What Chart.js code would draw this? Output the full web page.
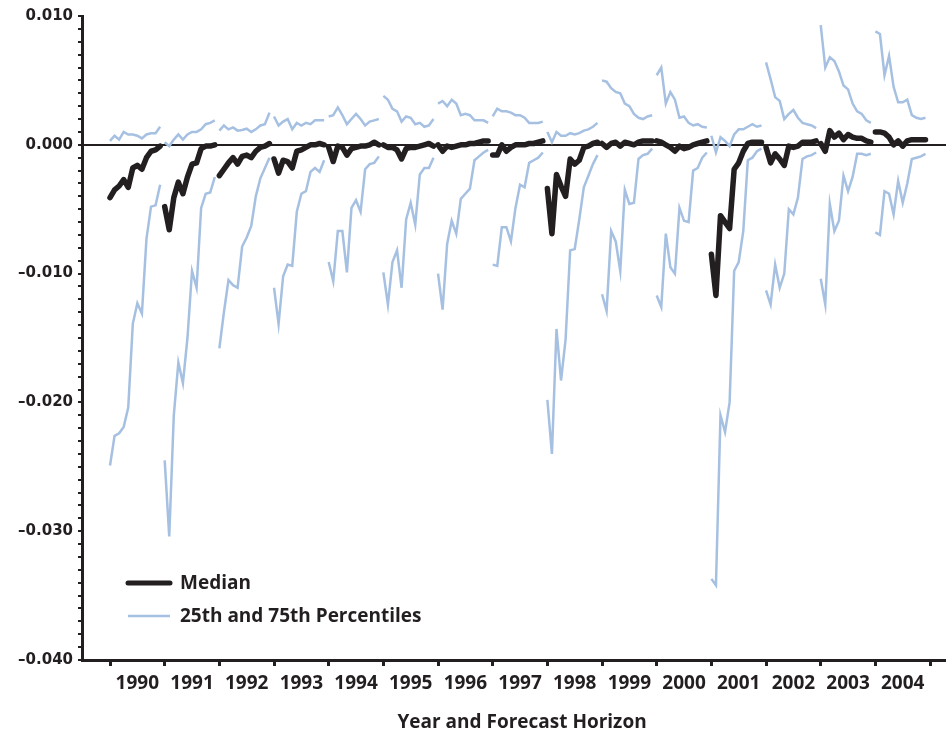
<!DOCTYPE html>
<html>
<head>
<meta charset="utf-8">
<script src="https://cdn.jsdelivr.net/npm/chart.js@4.4.1/dist/chart.umd.min.js"></script>
<style>
html,body{margin:0;padding:0;background:#ffffff;}
canvas{display:block;}
</style>
</head>
<body>
<canvas id="chart" width="946" height="732"></canvas>
<script>
// ---- Data (12 monthly forecasts per target year) ----
const years = ['1990','1991','1992','1993','1994','1995','1996','1997','1998','1999','2000','2001','2002','2003','2004'];
const forecastsPerYear = 12;

const median = [
  -0.0041,-0.0035,-0.0032,-0.0027,-0.0033,-0.0018,-0.0016,-0.0019,-0.0010,-0.0005,-0.0004,-0.0001, // 1990
  -0.0048,-0.0066,-0.0041,-0.0029,-0.0038,-0.0025,-0.0015,-0.0014,-0.0003,-0.0001,-0.0001, 0.0000, // 1991
  -0.0024,-0.0019,-0.0014,-0.0010,-0.0015,-0.0009,-0.0008,-0.0010,-0.0005,-0.0002,-0.0001, 0.0001, // 1992
  -0.0011,-0.0022,-0.0012,-0.0013,-0.0018,-0.0005,-0.0004,-0.0002, 0.0000, 0.0000, 0.0001, 0.0000, // 1993
  -0.0002,-0.0013,-0.0001,-0.0002,-0.0008,-0.0003,-0.0002,-0.0001,-0.0001, 0.0000, 0.0002, 0.0000, // 1994
   0.0000,-0.0002,-0.0002,-0.0004,-0.0011,-0.0003,-0.0002,-0.0002,-0.0001, 0.0000, 0.0001,-0.0001, // 1995
   0.0000,-0.0005,-0.0001,-0.0002,-0.0001, 0.0000, 0.0000, 0.0001, 0.0001, 0.0002, 0.0003, 0.0003, // 1996
  -0.0008,-0.0008, 0.0000,-0.0005,-0.0002, 0.0000, 0.0000, 0.0000, 0.0001, 0.0001, 0.0002, 0.0003, // 1997
  -0.0034,-0.0069,-0.0023,-0.0032,-0.0040,-0.0011,-0.0015,-0.0012,-0.0002,-0.0001, 0.0001, 0.0002, // 1998
   0.0001,-0.0002, 0.0001, 0.0002,-0.0001, 0.0002, 0.0001, 0.0000, 0.0002, 0.0003, 0.0003, 0.0003, // 1999
   0.0003, 0.0002, 0.0000,-0.0002,-0.0005,-0.0001,-0.0003,-0.0002, 0.0000, 0.0001, 0.0002, 0.0003, // 2000
  -0.0085,-0.0117,-0.0055,-0.0060,-0.0065,-0.0019,-0.0014,-0.0005, 0.0001, 0.0002, 0.0002, 0.0002, // 2001
  -0.0002,-0.0014,-0.0007,-0.0011,-0.0016,-0.0001,-0.0002,-0.0001, 0.0002, 0.0002, 0.0002, 0.0003, // 2002
   0.0001,-0.0005, 0.0011, 0.0006, 0.0009, 0.0004, 0.0008, 0.0006, 0.0005, 0.0005, 0.0003, 0.0002, // 2003
   0.0010, 0.0010, 0.0009, 0.0006, 0.0000, 0.0003,-0.0001, 0.0003, 0.0004, 0.0004, 0.0004, 0.0004  // 2004
];

const p75 = [
   0.0003, 0.0007, 0.0004, 0.0010, 0.0008, 0.0008, 0.0007, 0.0005, 0.0008, 0.0009, 0.0009, 0.0014, // 1990
   0.0002,-0.0001, 0.0004, 0.0008, 0.0004, 0.0008, 0.0010, 0.0010, 0.0012, 0.0016, 0.0017, 0.0019, // 1991
   0.0011, 0.0015, 0.0012, 0.00135,0.0011, 0.00115,0.00125,0.0010, 0.0012, 0.0015, 0.0016, 0.0025, // 1992
   0.0022, 0.0015, 0.0018, 0.0020, 0.0012, 0.0017, 0.0015, 0.0017, 0.0016, 0.0019, 0.0019, 0.0019, // 1993
   0.0022, 0.0023, 0.0029, 0.0023, 0.0016, 0.0020, 0.0024, 0.0020, 0.0015, 0.0018, 0.0019, 0.0020, // 1994
   0.0038, 0.0035, 0.0028, 0.0026, 0.0018, 0.0022, 0.0021, 0.0016, 0.0017, 0.0014, 0.0015, 0.0020, // 1995
   0.0032, 0.0034, 0.0030, 0.0035, 0.0032, 0.0023, 0.0024, 0.0023, 0.0019, 0.0019, 0.0019, 0.0017, // 1996
   0.0022, 0.0028, 0.0026, 0.0026, 0.0025, 0.0023, 0.0023, 0.0021, 0.0017, 0.0017, 0.0017, 0.0018, // 1997
   0.0010, 0.0002, 0.0010, 0.0007, 0.0007, 0.0009, 0.0008, 0.0009, 0.0011, 0.0012, 0.0014, 0.0017, // 1998
   0.0050, 0.0049, 0.0044, 0.0041, 0.0040, 0.0032, 0.0030, 0.0024, 0.0021, 0.0020, 0.0022, 0.0023, // 1999
   0.0054, 0.0060, 0.0032, 0.0041, 0.0035, 0.0021, 0.0022, 0.0017, 0.0015, 0.0016, 0.0014, 0.00135,// 2000
   0.0007,-0.0006, 0.0006, 0.0003,-0.0001, 0.0008, 0.0012, 0.0012, 0.0014, 0.0016, 0.0014, 0.0015, // 2001
   0.0064, 0.0051, 0.0037, 0.0034, 0.0020, 0.0024, 0.0027, 0.0021, 0.0017, 0.0016, 0.0015, 0.0013, // 2002
   0.0093, 0.0060, 0.0068, 0.0065, 0.0057, 0.0046, 0.0043, 0.0032, 0.0026, 0.0024, 0.0019, 0.0017, // 2003
   0.0088, 0.0086, 0.0054, 0.0069, 0.0045, 0.0033, 0.0033, 0.0035, 0.0023, 0.0021, 0.0020, 0.0021  // 2004
];

const p25 = [
  -0.0249,-0.0226,-0.0224,-0.0219,-0.0204,-0.0139,-0.0123,-0.0131,-0.0073,-0.0048,-0.0047,-0.0031, // 1990
  -0.0245,-0.0304,-0.0210,-0.0169,-0.0185,-0.0150,-0.0098,-0.0111,-0.0049,-0.0038,-0.0037,-0.0025, // 1991
  -0.0158,-0.0130,-0.0105,-0.0109,-0.0111,-0.0079,-0.0072,-0.0063,-0.0040,-0.0026,-0.0018,-0.0010, // 1992
  -0.0111,-0.0139,-0.0102,-0.0093,-0.0094,-0.0052,-0.0038,-0.0036,-0.0021,-0.0018,-0.0021,-0.0012, // 1993
  -0.0091,-0.0106,-0.0067,-0.0067,-0.0099,-0.0049,-0.0043,-0.0052,-0.0019,-0.0015,-0.0014,-0.0009, // 1994
  -0.0099,-0.0124,-0.0091,-0.0082,-0.0111,-0.0058,-0.0045,-0.0062,-0.0023,-0.0018,-0.0018,-0.0010, // 1995
  -0.0100,-0.0128,-0.0077,-0.0059,-0.0069,-0.0042,-0.0038,-0.0034,-0.0012,-0.0009,-0.0006,-0.0004, // 1996
  -0.0093,-0.0094,-0.0064,-0.0064,-0.0075,-0.0049,-0.0031,-0.0033,-0.0014,-0.0012,-0.0010,-0.0006, // 1997
  -0.0198,-0.0240,-0.0143,-0.0183,-0.0151,-0.0082,-0.0081,-0.0058,-0.0033,-0.0024,-0.0015,-0.0008, // 1998
  -0.0116,-0.0129,-0.0067,-0.0075,-0.0098,-0.0035,-0.0046,-0.0045,-0.0011,-0.0008,-0.0007,-0.0003, // 1999
  -0.0117,-0.0126,-0.0069,-0.0095,-0.0100,-0.0049,-0.0059,-0.0060,-0.0020,-0.0018,-0.0010,-0.0006, // 2000
  -0.0337,-0.0342,-0.0210,-0.0223,-0.0200,-0.0098,-0.0091,-0.0067,-0.0012,-0.0010,-0.0005,-0.0003, // 2001
  -0.0113,-0.0124,-0.0093,-0.0111,-0.0100,-0.0050,-0.0054,-0.0041,-0.0011,-0.0009,-0.0008,-0.0006, // 2002
  -0.0104,-0.0124,-0.0046,-0.0067,-0.0059,-0.0024,-0.0036,-0.0025,-0.0007,-0.0007,-0.0008,-0.0007, // 2003
  -0.0068,-0.0070,-0.0036,-0.0038,-0.0054,-0.0028,-0.0045,-0.0030,-0.0011,-0.0010,-0.0009,-0.0007  // 2004
];

const yMajorTicks  = [0.010, 0.000, -0.010, -0.020, -0.030, -0.040];
const yTickLabels  = ['0.010', '0.000', '\u20130.010', '\u20130.020', '\u20130.030', '\u20130.040'];
const yMinorStep   = 0.001;
const xTitle = 'Year and Forecast Horizon';
const legendLabels = ['Median', '25th and 75th Percentiles'];

// ---- Build point lists: one broken segment per target year ----
function toPoints(vals) {
  const pts = [];
  years.forEach((yr, i) => {
    for (let m = 0; m < forecastsPerYear; m++) {
      pts.push({ x: i * forecastsPerYear + m, y: vals[i * forecastsPerYear + m] });
    }
    pts.push({ x: i * forecastsPerYear + forecastsPerYear - 0.5, y: null });
  });
  return pts;
}

const INK = '#231f20';
const BLUE = '#a6c0e2';
const TRANSPARENT = 'rgba(0,0,0,0)';
const LABEL_FONT = '"Open Sans", sans-serif';

const xTickValues = [];
for (let i = 0; i <= years.length; i++) xTickValues.push(i * forecastsPerYear);
for (let i = 0; i < years.length; i++) xTickValues.push(i * forecastsPerYear + forecastsPerYear / 2);
xTickValues.sort((a, b) => a - b);

const yTickValues = [];
{
  const lo = Math.round(Math.min(...yMajorTicks) / yMinorStep);
  const hi = Math.round(Math.max(...yMajorTicks) / yMinorStep);
  for (let k = lo; k <= hi; k++) yTickValues.push(k * yMinorStep);
}

const overlayPlugin = {
  id: 'overlay',
  afterDraw(chart) {
    const ctx = chart.ctx;
    const xs = chart.scales.x;
    ctx.save();
    // axis title
    ctx.fillStyle = INK;
    ctx.font = 'bold 19px ' + LABEL_FONT;
    ctx.textAlign = 'center';
    ctx.textBaseline = 'alphabetic';
    const cx = (xs.getPixelForValue(0) + xs.getPixelForValue(years.length * forecastsPerYear)) / 2 + 2;
    ctx.fillText(xTitle, cx, 728);
    // legend
    const lx0 = 128, lx1 = 170, tx = 180;
    ctx.lineCap = 'round';
    ctx.strokeStyle = INK; ctx.lineWidth = 5;
    ctx.beginPath(); ctx.moveTo(lx0, 583); ctx.lineTo(lx1, 583); ctx.stroke();
    ctx.lineCap = 'butt';
    ctx.strokeStyle = BLUE; ctx.lineWidth = 2.5;
    ctx.beginPath(); ctx.moveTo(lx0, 616); ctx.lineTo(lx1, 616); ctx.stroke();
    ctx.textAlign = 'left';
    ctx.font = 'bold 19px ' + LABEL_FONT;
    ctx.fillText(legendLabels[0], tx, 589);
    ctx.fillText(legendLabels[1], tx, 622);
    ctx.restore();
  }
};

new Chart(document.getElementById('chart'), {
  type: 'line',
  data: {
    datasets: [
      { label: 'Median', data: toPoints(median), borderColor: INK, borderWidth: 5.5,
        borderCapStyle: 'round', borderJoinStyle: 'round', pointRadius: 0, spanGaps: false },
      { label: '75th Percentile', data: toPoints(p75), borderColor: BLUE, borderWidth: 2.5,
        borderJoinStyle: 'miter', pointRadius: 0, spanGaps: false },
      { label: '25th Percentile', data: toPoints(p25), borderColor: BLUE, borderWidth: 2.5,
        borderJoinStyle: 'miter', pointRadius: 0, spanGaps: false }
    ]
  },
  options: {
    responsive: false,
    animation: false,
    devicePixelRatio: 1,
    layout: { padding: { top: 16, left: 0, right: 0, bottom: 0 } },
    plugins: { legend: { display: false }, tooltip: { enabled: false } },
    elements: { line: { tension: 0 }, point: { radius: 0 } },
    scales: {
      x: {
        type: 'linear',
        min: -6.15,
        max: 183.5,
        afterBuildTicks: s => { s.ticks = xTickValues.map(v => ({ value: v })); },
        afterFit: s => { s.height = 72; },
        ticks: {
          autoSkip: false, maxRotation: 0, minRotation: 0, padding: 6,
          color: INK,
          font: { family: LABEL_FONT, size: 19, weight: 'bold' },
          callback: v => (v % forecastsPerYear === forecastsPerYear / 2) ? years[(v - forecastsPerYear / 2) / forecastsPerYear] : ''
        },
        grid: {
          drawOnChartArea: false, drawTicks: true, tickLength: 6, tickWidth: 3,
          tickColor: c => (c.tick && c.tick.value % forecastsPerYear === 0) ? INK : TRANSPARENT,
          color: TRANSPARENT
        },
        border: { display: true, color: INK, width: 3 }
      },
      y: {
        type: 'linear',
        min: Math.min(...yMajorTicks),
        max: Math.max(...yMajorTicks),
        afterBuildTicks: s => { s.ticks = yTickValues.map(v => ({ value: v })); },
        afterFit: s => { s.width = 82; },
        ticks: {
          autoSkip: false, padding: 5, color: INK,
          font: { family: '"DejaVu Sans", sans-serif', size: 15, weight: 'bold' },
          callback: v => {
            const idx = yMajorTicks.findIndex(t => Math.abs(t - v) < 1e-9);
            return idx >= 0 ? yTickLabels[idx] : '';
          }
        },
        grid: {
          drawOnChartArea: true, drawTicks: true, tickLength: 4, tickWidth: 2, tickColor: INK,
          color: c => (c.tick && Math.abs(c.tick.value) < 1e-9) ? INK : TRANSPARENT,
          lineWidth: c => (c.tick && Math.abs(c.tick.value) < 1e-9) ? 2 : 0
        },
        border: { display: true, color: INK, width: 3 }
      }
    }
  },
  plugins: [overlayPlugin]
});
</script>
</body>
</html>
